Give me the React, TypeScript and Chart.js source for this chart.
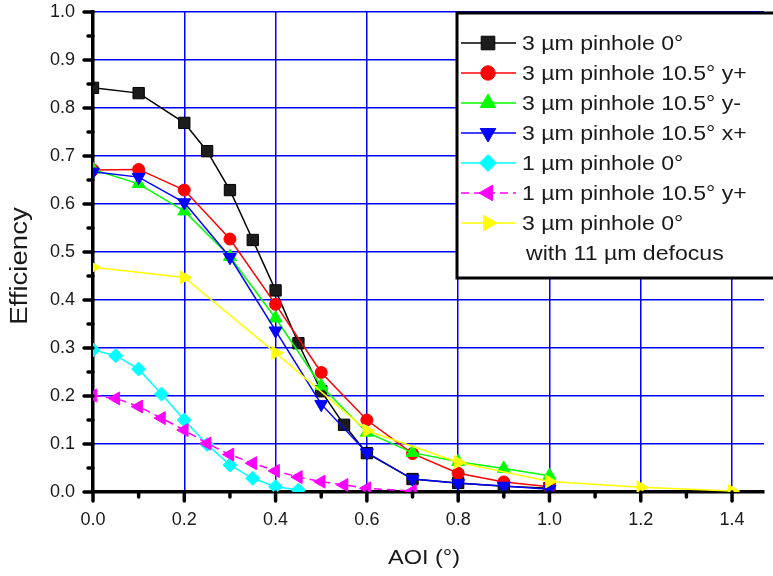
import React, { useEffect, useRef } from 'react';
import { Chart, registerables } from 'chart.js';

Chart.register(...registerables);

// ---------- data ----------
const X_BLACK = [0, 0.1, 0.2, 0.25, 0.3, 0.35, 0.4, 0.45, 0.5, 0.55, 0.6, 0.7, 0.8, 0.9, 1.0];
const Y_BLACK = [0.842, 0.831, 0.769, 0.71, 0.629, 0.525, 0.42, 0.31, 0.21, 0.14, 0.081, 0.027, 0.019, 0.012, 0.008];

const X_STD = [0, 0.1, 0.2, 0.3, 0.4, 0.5, 0.6, 0.7, 0.8, 0.9, 1.0];
const Y_RED = [0.671, 0.672, 0.629, 0.527, 0.391, 0.249, 0.15, 0.08, 0.039, 0.021, 0.011];
const Y_GREEN = [0.672, 0.642, 0.585, 0.49, 0.362, 0.221, 0.124, 0.082, 0.063, 0.049, 0.034];
const Y_BLUE = [0.667, 0.656, 0.603, 0.489, 0.336, 0.183, 0.082, 0.027, 0.018, 0.0125, 0.0056];

const X_CYAN = [0, 0.05, 0.1, 0.15, 0.2, 0.25, 0.3, 0.35, 0.4, 0.45];
const Y_CYAN = [0.296, 0.284, 0.256, 0.204, 0.15, 0.099, 0.056, 0.0285, 0.011, 0.004];

const X_MAG = [0, 0.05, 0.1, 0.15, 0.2, 0.25, 0.3, 0.35, 0.4, 0.45, 0.5, 0.55, 0.6, 0.7];
const Y_MAG = [0.201, 0.195, 0.178, 0.154, 0.129, 0.101, 0.078, 0.06, 0.044, 0.031, 0.0215, 0.0146, 0.0077, 0.002];

const X_YEL = [0, 0.2, 0.4, 0.6, 0.8, 1.0, 1.2, 1.4];
const Y_YEL = [0.468, 0.447, 0.29, 0.128, 0.062, 0.022, 0.0098, 0.002];

const X_TICKS = [0, 0.1, 0.2, 0.3, 0.4, 0.5, 0.6, 0.7, 0.8, 0.9, 1.0, 1.1, 1.2, 1.3, 1.4];
const Y_TICKS = [0, 0.1, 0.2, 0.3, 0.4, 0.5, 0.6, 0.7, 0.8, 0.9, 1.0];
const Y_MINOR = [0.05, 0.15, 0.25, 0.35, 0.45, 0.55, 0.65, 0.75, 0.85, 0.95];

const LABELS = [
  '3 µm pinhole 0°',
  '3 µm pinhole 10.5° y+',
  '3 µm pinhole 10.5° y-',
  '3 µm pinhole 10.5° x+',
  '1 µm pinhole 0°',
  '1 µm pinhole 10.5° y+',
  '3 µm pinhole 0°',
];
const LEGEND_EXTRA = 'with 11 µm defocus';
const X_TITLE = 'AOI (°)';
const Y_TITLE = 'Efficiency';

const FONT = '"Liberation Sans", Arial, sans-serif';

type Marker = 'square' | 'circle' | 'up' | 'down' | 'diamond' | 'left' | 'right';

const SERIES: { xs: number[]; ys: number[]; color: string; fill: string; marker: Marker; dash?: number[] }[] = [
  { xs: X_BLACK, ys: Y_BLACK, color: '#000000', fill: '#1c1c1c', marker: 'square' },
  { xs: X_STD, ys: Y_RED, color: '#ff0000', fill: '#ff0000', marker: 'circle' },
  { xs: X_STD, ys: Y_GREEN, color: '#00ff00', fill: '#00ff00', marker: 'up' },
  { xs: X_STD, ys: Y_BLUE, color: '#0000ff', fill: '#0000ff', marker: 'down' },
  { xs: X_CYAN, ys: Y_CYAN, color: '#00ffff', fill: '#00ffff', marker: 'diamond' },
  { xs: X_MAG, ys: Y_MAG, color: '#ff00ff', fill: '#ff00ff', marker: 'left', dash: [8, 5] },
  { xs: X_YEL, ys: Y_YEL, color: '#ffff00', fill: '#ffff00', marker: 'right' },
];

const STYLE_MAP: Record<Marker, { style: string; rot: number; r: number }> = {
  square: { style: 'rect', rot: 0, r: 8 },
  circle: { style: 'circle', rot: 0, r: 6 },
  up: { style: 'triangle', rot: 0, r: 7.5 },
  down: { style: 'triangle', rot: 180, r: 7.5 },
  diamond: { style: 'rectRot', rot: 0, r: 7 },
  left: { style: 'triangle', rot: -90, r: 7.5 },
  right: { style: 'triangle', rot: 90, r: 7.5 },
};

function drawMarker(ctx: CanvasRenderingContext2D, m: Marker, x: number, y: number, r: number, fill: string, stroke: string) {
  ctx.save();
  ctx.fillStyle = fill;
  ctx.strokeStyle = stroke;
  ctx.lineWidth = 1;
  ctx.setLineDash([]);
  ctx.beginPath();
  if (m === 'square') {
    const s = r * Math.SQRT1_2;
    ctx.rect(x - s, y - s, 2 * s, 2 * s);
  } else if (m === 'circle') {
    ctx.arc(x, y, r, 0, Math.PI * 2);
  } else if (m === 'diamond') {
    ctx.moveTo(x, y - r);
    ctx.lineTo(x + r, y);
    ctx.lineTo(x, y + r);
    ctx.lineTo(x - r, y);
    ctx.closePath();
  } else {
    const rot = m === 'up' ? 0 : m === 'down' ? 180 : m === 'left' ? -90 : 90;
    const rad = (rot * Math.PI) / 180;
    for (let i = 0; i < 3; i++) {
      const a = rad + (i * 2 * Math.PI) / 3;
      const px = x + Math.sin(a) * r;
      const py = y - Math.cos(a) * r;
      if (i === 0) ctx.moveTo(px, py);
      else ctx.lineTo(px, py);
    }
    ctx.closePath();
  }
  ctx.fill();
  ctx.stroke();
  ctx.restore();
}

function wideText(ctx: CanvasRenderingContext2D, text: string, x: number, y: number, sx: number) {
  ctx.save();
  ctx.translate(x, y);
  ctx.scale(sx, 1);
  ctx.fillText(text, 0, 0);
  ctx.restore();
}

const tickMarksPlugin = {
  id: 'tickMarks',
  afterDraw(chart: any) {
    const ctx = chart.ctx as CanvasRenderingContext2D;
    const xs = chart.scales.x;
    const ys = chart.scales.y;
    const left = chart.chartArea.left;
    const bottom = chart.chartArea.bottom;
    ctx.save();
    ctx.strokeStyle = '#000';
    ctx.lineWidth = 3.5;
    ctx.lineCap = 'round';
    Y_TICKS.forEach((v) => {
      const py = ys.getPixelForValue(v);
      ctx.beginPath();
      ctx.moveTo(left - 9, py);
      ctx.lineTo(left, py);
      ctx.stroke();
    });
    Y_MINOR.forEach((v) => {
      const py = ys.getPixelForValue(v);
      ctx.beginPath();
      ctx.moveTo(left - 5, py);
      ctx.lineTo(left, py);
      ctx.stroke();
    });
    X_TICKS.forEach((v) => {
      const px = xs.getPixelForValue(v);
      const major = Math.round(v * 10) % 2 === 0;
      ctx.beginPath();
      ctx.moveTo(px, bottom);
      ctx.lineTo(px, bottom + (major ? 9 : 5));
      ctx.stroke();
    });
    ctx.restore();
  },
};

const titlesPlugin = {
  id: 'axisTitles',
  afterDraw(chart: any) {
    const ctx = chart.ctx as CanvasRenderingContext2D;
    ctx.save();
    ctx.fillStyle = '#1a1a1a';
    ctx.font = `21px ${FONT}`;
    ctx.textAlign = 'center';
    ctx.textBaseline = 'middle';
    wideText(ctx, X_TITLE, 424, 558, 1.12);
    ctx.font = `23px ${FONT}`;
    ctx.translate(21, 266);
    ctx.rotate(-Math.PI / 2);
    wideText(ctx, Y_TITLE, 0, 0, 1.2);
    ctx.restore();
  },
};

const legendPlugin = {
  id: 'boxLegend',
  afterDraw(chart: any) {
    const ctx = chart.ctx as CanvasRenderingContext2D;
    ctx.save();
    const bx = 457;
    const by = 13;
    ctx.fillStyle = '#ffffff';
    ctx.fillRect(bx, by, 400, 265);
    ctx.strokeStyle = '#000';
    ctx.lineWidth = 3;
    ctx.strokeRect(bx, by, 400, 265);
    ctx.font = `21px ${FONT}`;
    ctx.textBaseline = 'middle';
    ctx.textAlign = 'left';
    SERIES.forEach((s, i) => {
      const y = 43 + i * 30;
      ctx.strokeStyle = s.color;
      ctx.lineWidth = 1.5;
      ctx.setLineDash(s.dash ? s.dash : []);
      ctx.beginPath();
      ctx.moveTo(461, y);
      ctx.lineTo(516, y);
      ctx.stroke();
      ctx.setLineDash([]);
      const st = STYLE_MAP[s.marker];
      drawMarker(ctx, s.marker, 488, y, st.r * 1.2, s.fill, s.color);
      ctx.fillStyle = '#1a1a1a';
      wideText(ctx, LABELS[i], 522, y + 1, 1.1);
    });
    wideText(ctx, LEGEND_EXTRA, 526, 43 + 7 * 30 + 1, 1.1);
    ctx.restore();
  },
};

export default function App() {
  const ref = useRef<HTMLCanvasElement | null>(null);
  useEffect(() => {
    document.body.style.margin = '0';
    const canvas = ref.current;
    if (!canvas) return;
    Chart.defaults.font.family = FONT;
    const datasets = SERIES.map((s, i) => {
      const st = STYLE_MAP[s.marker];
      return {
        label: LABELS[i],
        data: s.xs.map((x, k) => ({ x, y: s.ys[k] })),
        borderColor: s.color,
        backgroundColor: s.fill,
        borderWidth: 1.5,
        borderDash: s.dash || [],
        pointStyle: st.style,
        pointRotation: st.rot,
        pointRadius: st.r,
        pointHoverRadius: st.r,
        pointBackgroundColor: s.fill,
        pointBorderColor: s.color,
        pointBorderWidth: 1,
        showLine: true,
        tension: 0,
        order: SERIES.length - i,
      };
    });
    const chart = new Chart(canvas, {
      type: 'scatter',
      data: { datasets: datasets as any },
      options: {
        responsive: false,
        animation: false,
        events: [],
        layout: { padding: { top: 12, left: 0, right: 0, bottom: 0 } },
        plugins: { legend: { display: false }, tooltip: { enabled: false }, title: { display: false } },
        scales: {
          x: {
            type: 'linear',
            min: 0,
            max: 1.47,
            afterBuildTicks: (scale: any) => {
              scale.ticks = X_TICKS.map((v) => ({ value: v }));
            },
            afterFit: (scale: any) => {
              scale.height = 84;
              scale.paddingLeft = 0;
              scale.paddingRight = 0;
            },
            ticks: {
              autoSkip: false,
              maxRotation: 0,
              padding: 17,
              color: '#1a1a1a',
              font: { size: 18, family: FONT },
              callback: (v: any) => (Math.round(Number(v) * 10) % 2 === 0 ? Number(v).toFixed(1) : ''),
            },
            grid: {
              drawTicks: false,
              lineWidth: 1.5,
              color: (c: any) => {
                const v = c.tick ? c.tick.value : 0;
                return v > 0.01 && Math.round(v * 10) % 2 === 0 ? '#0000ff' : 'rgba(0,0,0,0)';
              },
            },
            border: { display: true, color: '#000', width: 3.5 },
          },
          y: {
            type: 'linear',
            min: 0,
            max: 1,
            afterBuildTicks: (scale: any) => {
              scale.ticks = Y_TICKS.map((v) => ({ value: v }));
            },
            afterFit: (scale: any) => {
              scale.width = 93;
              scale.paddingTop = 0;
              scale.paddingBottom = 0;
            },
            ticks: {
              padding: 18,
              color: '#1a1a1a',
              font: { size: 18, family: FONT },
              callback: (v: any) => Number(v).toFixed(1),
            },
            grid: {
              drawTicks: false,
              lineWidth: 1.5,
              color: (c: any) => {
                const v = c.tick ? c.tick.value : 0;
                return v > 0.01 ? '#0000ff' : 'rgba(0,0,0,0)';
              },
            },
            border: { display: true, color: '#000', width: 3.5 },
          },
        },
      },
      plugins: [tickMarksPlugin, titlesPlugin, legendPlugin],
    });
    return () => chart.destroy();
  }, []);
  return (
    <div style={{ width: 773, height: 576 }}>
      <canvas ref={ref} width={773} height={576} style={{ display: 'block' }} />
    </div>
  );
}
